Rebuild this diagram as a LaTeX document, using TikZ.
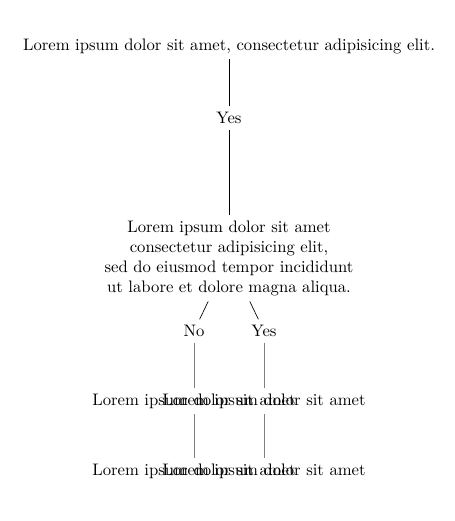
\documentclass[tikz,border=0pt]{standalone}
\begin{document}
\begin{tikzpicture}[
    x=0.6pt, y=-0.6pt,
    base/.style={align=center},
    edge/.style={thin, black},
    greyedge/.style={thin, gray}
]
    \useasboundingbox (0,0) rectangle (455,521);

    % --- Question and first answer ---
    \node[base] (root) at (229, 46) {Lorem ipsum dolor sit amet, consectetur adipisicing elit.};
    \node[base] (yes) at (229, 118) {Yes};
    \node[base] (mid) at (229, 258) {Lorem ipsum dolor sit amet\\consectetur adipisicing elit,\\sed do eiusmod tempor incididunt\\ut labore et dolore magna aliqua.};

    \draw[edge] (root) -- (yes);
    \draw[edge] (yes) -- (mid);

    % --- Branches ---
    \node[base] (no) at (194, 331) {No};
    \node[base] (yesb) at (264, 331) {Yes};

    \draw[edge] (mid) -- (no);
    \draw[edge] (mid) -- (yesb);

    % --- Leaves (overlapping) ---
    \node[base] (noa) at (194, 401) {Lorem ipsum dolor sit amet};
    \node[base] (nob) at (194, 471) {Lorem ipsum dolor sit amet};
    \node[base] (yesa) at (264, 401) {Lorem ipsum dolor sit amet};
    \node[base] (yesc) at (264, 471) {Lorem ipsum dolor sit amet};

    \draw[greyedge] (no) -- (noa);
    \draw[greyedge] (noa) -- (nob);
    \draw[greyedge] (yesb) -- (yesa);
    \draw[greyedge] (yesa) -- (yesc);

\end{tikzpicture}
\end{document}
